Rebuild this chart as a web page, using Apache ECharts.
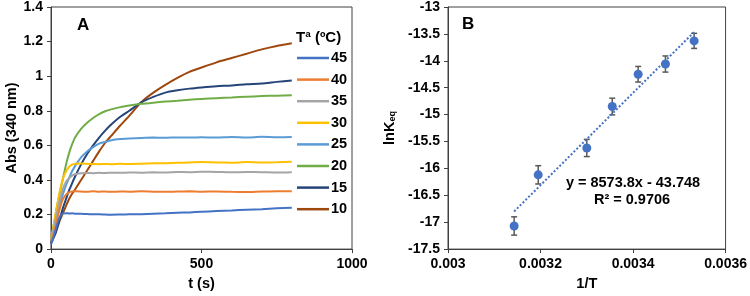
<!DOCTYPE html>
<html>
<head>
<meta charset="utf-8">
<script src="https://cdn.jsdelivr.net/npm/echarts@6/dist/echarts.min.js"></script>
<style>
  html, body { margin: 0; padding: 0; background: #fff; }
  #main { width: 750px; height: 296px; }
</style>
</head>
<body>
<div id="main"></div>
<script>
// panel A: absorbance vs time for each temperature
const time = [0, 5, 10, 15, 20, 30, 40, 50, 60, 70, 80, 100, 120, 140, 160, 180, 200, 230, 260, 300, 340, 380, 420, 460, 500, 550, 600, 650, 700, 750, 800];
const temps = ['45', '40', '35', '30', '25', '20', '15', '10'];
const colors = ['#4472C4', '#ED7D31', '#A5A5A5', '#FFC000', '#5B9BD5', '#70AD47', '#264478', '#9E480E'];
const abs45 = [0.03, 0.05, 0.08, 0.11, 0.14, 0.19, 0.205, 0.208, 0.206, 0.207, 0.205, 0.204, 0.203, 0.201, 0.202, 0.200, 0.199, 0.200, 0.201, 0.202, 0.205, 0.207, 0.210, 0.212, 0.216, 0.220, 0.223, 0.228, 0.231, 0.236, 0.239];
const abs40 = [0.05, 0.07, 0.10, 0.13, 0.17, 0.24, 0.29, 0.315, 0.328, 0.333, 0.334, 0.333, 0.331, 0.334, 0.332, 0.333, 0.331, 0.333, 0.332, 0.334, 0.332, 0.331, 0.333, 0.334, 0.332, 0.333, 0.331, 0.330, 0.333, 0.334, 0.335];
const abs35 = [0.06, 0.09, 0.13, 0.17, 0.21, 0.29, 0.35, 0.39, 0.41, 0.425, 0.433, 0.438, 0.440, 0.439, 0.441, 0.440, 0.442, 0.441, 0.443, 0.442, 0.444, 0.443, 0.446, 0.445, 0.447, 0.446, 0.444, 0.446, 0.445, 0.443, 0.445];
const abs30 = [0.06, 0.10, 0.15, 0.20, 0.25, 0.34, 0.41, 0.45, 0.475, 0.488, 0.494, 0.495, 0.493, 0.492, 0.491, 0.492, 0.491, 0.493, 0.492, 0.494, 0.496, 0.497, 0.499, 0.501, 0.503, 0.501, 0.500, 0.503, 0.501, 0.502, 0.505];
const abs25 = [0.05, 0.08, 0.11, 0.15, 0.19, 0.26, 0.32, 0.37, 0.41, 0.45, 0.48, 0.53, 0.565, 0.59, 0.61, 0.62, 0.63, 0.637, 0.640, 0.643, 0.645, 0.644, 0.646, 0.645, 0.647, 0.645, 0.648, 0.646, 0.649, 0.647, 0.648];
const abs20 = [0.06, 0.10, 0.15, 0.20, 0.25, 0.33, 0.41, 0.49, 0.555, 0.605, 0.645, 0.695, 0.73, 0.758, 0.78, 0.797, 0.808, 0.821, 0.830, 0.840, 0.847, 0.853, 0.858, 0.864, 0.868, 0.873, 0.877, 0.881, 0.885, 0.887, 0.889];
const abs15 = [0.03, 0.05, 0.07, 0.09, 0.12, 0.18, 0.24, 0.29, 0.34, 0.38, 0.42, 0.49, 0.55, 0.60, 0.645, 0.685, 0.72, 0.765, 0.80, 0.848, 0.88, 0.905, 0.918, 0.928, 0.935, 0.942, 0.946, 0.953, 0.958, 0.967, 0.975];
const abs10 = [0.04, 0.06, 0.08, 0.10, 0.12, 0.17, 0.21, 0.25, 0.29, 0.32, 0.345, 0.40, 0.455, 0.51, 0.565, 0.615, 0.655, 0.715, 0.77, 0.85, 0.905, 0.95, 0.99, 1.025, 1.05, 1.08, 1.105, 1.13, 1.155, 1.175, 1.19];
const absSeries = [abs45, abs40, abs35, abs30, abs25, abs20, abs15, abs10];

// panel B: ln Keq vs 1/T
const invT = [0.003143, 0.003195, 0.003300, 0.003355, 0.003411, 0.003470, 0.003532];
const lnK = [-17.07, -16.12, -15.62, -14.85, -14.25, -14.06, -13.63];
const lnKerr = [0.17, 0.17, 0.16, 0.155, 0.145, 0.15, 0.14];
const fitLine = [[0.003143, -16.80], [0.003532, -13.465]];

const chart = echarts.init(document.getElementById('main'));
const font = 'Liberation Sans, Arial, sans-serif';
const axisCol = '#404040';

function baseAxis(extra) {
    return Object.assign({
        axisLine: { show: true, lineStyle: { color: axisCol, width: 1 } },
        axisTick: { show: true, length: 4, lineStyle: { color: axisCol } },
        splitLine: { show: false },
        axisLabel: { color: '#000', fontFamily: font, fontWeight: 'bold', fontSize: 14 },
        nameTextStyle: { color: '#000', fontFamily: font, fontWeight: 'bold', fontSize: 14.5 }
    }, extra);
}
function lbl(fmt) {
    return { color: '#000', fontFamily: font, fontWeight: 'bold', fontSize: 14, formatter: fmt };
}

let series = [];
for (let i = temps.length - 1; i >= 0; i--) {
    series.push({
        name: temps[i],
        type: 'line',
        xAxisIndex: 0,
        yAxisIndex: 0,
        showSymbol: false,
        smooth: 0.2,
        lineStyle: { width: 2, color: colors[i] },
        itemStyle: { color: colors[i] },
        data: time.map((t, k) => [t, absSeries[i][k]])
    });
}

series.push({
    type: 'line',
    xAxisIndex: 1,
    yAxisIndex: 1,
    showSymbol: false,
    lineStyle: { width: 2, type: 'dotted', color: '#4472C4' },
    data: fitLine,
    silent: true
});
series.push({
    type: 'custom',
    xAxisIndex: 1,
    yAxisIndex: 1,
    renderItem: function (params, api) {
        let x = api.value(0), y = api.value(1), e = api.value(2);
        let hi = api.coord([x, y + e]);
        let lo = api.coord([x, y - e]);
        let w = 3;
        let st = { stroke: '#595959', lineWidth: 1.5 };
        return {
            type: 'group',
            children: [
                { type: 'line', shape: { x1: hi[0], y1: hi[1], x2: lo[0], y2: lo[1] }, style: st },
                { type: 'line', shape: { x1: hi[0] - w, y1: hi[1], x2: hi[0] + w, y2: hi[1] }, style: st },
                { type: 'line', shape: { x1: lo[0] - w, y1: lo[1], x2: lo[0] + w, y2: lo[1] }, style: st }
            ]
        };
    },
    data: invT.map((x, i) => [x, lnK[i], lnKerr[i]]),
    z: 3
});
series.push({
    type: 'scatter',
    xAxisIndex: 1,
    yAxisIndex: 1,
    symbolSize: 9,
    itemStyle: { color: '#4472C4', opacity: 1 },
    data: invT.map((x, i) => [x, lnK[i]]),
    z: 4
});

chart.setOption({
    animation: false,
    grid: [
        { left: 51, top: 7, width: 301, height: 244, show: true, borderColor: axisCol, borderWidth: 1 },
        { left: 448, top: 7, width: 278, height: 244, show: true, borderColor: axisCol, borderWidth: 1 }
    ],
    xAxis: [
        baseAxis({ type: 'value', gridIndex: 0, min: 0, max: 1000, interval: 500, name: 't (s)', nameLocation: 'middle', nameGap: 26,
            axisLabel: lbl(v => String(v)) }),
        baseAxis({ type: 'value', gridIndex: 1, min: 0.003, max: 0.0036, interval: 0.0002, name: '1/T', nameLocation: 'middle', nameGap: 26,
            axisLabel: lbl(v => String(+v.toFixed(4))) })
    ],
    yAxis: [
        baseAxis({ type: 'value', gridIndex: 0, min: 0, max: 1.4, interval: 0.2, name: 'Abs (340 nm)', nameLocation: 'middle', nameGap: 32,
            axisLabel: lbl(v => String(+v.toFixed(1))) }),
        baseAxis({
            type: 'value', gridIndex: 1, min: -17.5, max: -13, interval: 0.5, name: '{a|lnK}{b|eq}', nameLocation: 'middle', nameGap: 51,
            nameTextStyle: {
                rich: {
                    a: { color: '#000', fontFamily: font, fontWeight: 'bold', fontSize: 14.5 },
                    b: { color: '#000', fontFamily: font, fontWeight: 'bold', fontSize: 9, verticalAlign: 'bottom', padding: [6, 0, 0, 0] }
                }
            }
        })
    ],
    legend: {
        data: temps,
        orient: 'vertical',
        left: 292,
        top: 45,
        icon: 'rect',
        itemWidth: 32,
        itemHeight: 2.5,
        itemGap: 5.6,
        textStyle: { color: '#000', fontFamily: font, fontWeight: 'bold', fontSize: 14.5, lineHeight: 16, padding: [0, 0, 0, -3] }
    },
    graphic: [
        { type: 'text', left: 296, top: 30, style: { text: 'Tª (ºC)', fill: '#000', font: 'bold 15px ' + font } },
        { type: 'text', left: 77, top: 17, style: { text: 'A', fill: '#000', font: 'bold 17px ' + font } },
        { type: 'text', left: 462, top: 16, style: { text: 'B', fill: '#000', font: 'bold 17px ' + font } },
        { type: 'text', x: 633, y: 175, style: { text: 'y = 8573.8x - 43.748', fill: '#000', font: 'bold 14.5px ' + font, textAlign: 'center' } },
        { type: 'text', x: 632, y: 192, style: { text: 'R² = 0.9706', fill: '#000', font: 'bold 14.5px ' + font, textAlign: 'center' } }
    ],
    series: series
});
</script>
</body>
</html>
